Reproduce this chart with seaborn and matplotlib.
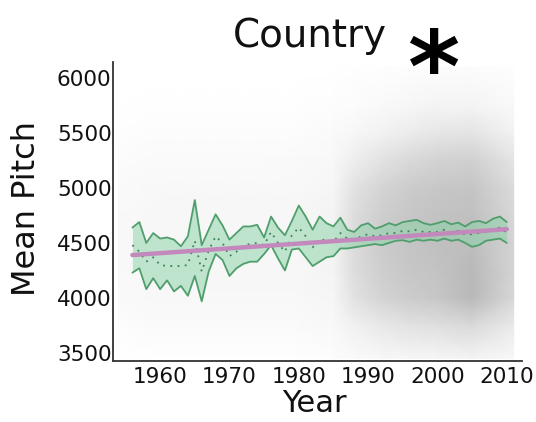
import numpy as np
import pandas as pd
import matplotlib
matplotlib.use("Agg")
import matplotlib.pyplot as plt
import seaborn as sns

# ---------------- data ----------------
years = list(range(1956, 2011))
ci_upper = [4640, 4690, 4500, 4590, 4540, 4550, 4530, 4470, 4560, 4890,
            4480, 4620, 4760, 4660, 4530, 4590, 4650, 4650, 4665, 4550,
            4740, 4640, 4570, 4700, 4840, 4740, 4620, 4740, 4680, 4650,
            4730, 4620, 4600, 4660, 4680, 4630, 4650, 4680, 4660, 4690,
            4700, 4710, 4680, 4665, 4680, 4700, 4670, 4685, 4650, 4690,
            4700, 4680, 4720, 4740, 4690]
ci_lower = [4230, 4270, 4080, 4180, 4080, 4160, 4060, 4110, 4020, 4200,
            3970, 4240, 4400, 4345, 4200, 4270, 4310, 4330, 4330, 4400,
            4480, 4360, 4250, 4440, 4450, 4370, 4290, 4330, 4370, 4380,
            4450, 4450, 4460, 4470, 4480, 4490, 4480, 4500, 4520, 4525,
            4510, 4530, 4520, 4530, 4520, 4540, 4520, 4530, 4500, 4465,
            4480, 4520, 4530, 4540, 4500]
mean_pitch = [4480, 4420, 4330, 4370, 4300, 4290, 4290, 4290, 4300, 4520,
              4240, 4430, 4560, 4500, 4380, 4420, 4480, 4490, 4500, 4480,
              4600, 4500, 4420, 4570, 4640, 4560, 4460, 4540, 4520, 4510,
              4590, 4540, 4530, 4560, 4580, 4560, 4570, 4590, 4590, 4610,
              4605, 4620, 4600, 4600, 4600, 4620, 4595, 4610, 4575, 4580,
              4590, 4600, 4625, 4640, 4595]
trend_years = [1956, 2010]
trend_pitch = [4390, 4625]

# density of the individual songs (grey cloud), read as darkness per grid node
cloud_years = [1954, 1960, 1965, 1970, 1975, 1980, 1985, 1988, 1992, 1996, 2000, 2005, 2011]
cloud_pitch = [3450, 3750, 4000, 4250, 4500, 4750, 5000, 5250, 5500, 5750, 6100]
cloud_density = [
    [0.00, 0.01, 0.01, 0.01, 0.01, 0.01, 0.02, 0.04, 0.06, 0.07, 0.08, 0.09, 0.05],
    [0.02, 0.04, 0.04, 0.04, 0.04, 0.04, 0.06, 0.12, 0.17, 0.20, 0.22, 0.25, 0.16],
    [0.04, 0.06, 0.06, 0.06, 0.06, 0.06, 0.08, 0.20, 0.27, 0.31, 0.33, 0.39, 0.26],
    [0.05, 0.07, 0.07, 0.07, 0.07, 0.07, 0.09, 0.23, 0.30, 0.33, 0.35, 0.39, 0.27],
    [0.05, 0.07, 0.07, 0.07, 0.07, 0.07, 0.09, 0.24, 0.31, 0.34, 0.36, 0.37, 0.27],
    [0.05, 0.07, 0.07, 0.07, 0.07, 0.07, 0.09, 0.23, 0.30, 0.33, 0.35, 0.36, 0.26],
    [0.04, 0.06, 0.06, 0.06, 0.06, 0.06, 0.08, 0.20, 0.27, 0.31, 0.33, 0.34, 0.24],
    [0.03, 0.04, 0.04, 0.04, 0.04, 0.05, 0.06, 0.14, 0.20, 0.25, 0.28, 0.29, 0.19],
    [0.01, 0.03, 0.03, 0.03, 0.03, 0.03, 0.04, 0.07, 0.11, 0.15, 0.18, 0.19, 0.11],
    [0.00, 0.01, 0.01, 0.01, 0.01, 0.01, 0.02, 0.03, 0.05, 0.07, 0.09, 0.09, 0.05],
    [0.00, 0.00, 0.00, 0.00, 0.00, 0.00, 0.00, 0.01, 0.01, 0.02, 0.03, 0.03, 0.01],
]

x_ticks = [1960, 1970, 1980, 1990, 2000, 2010]
y_ticks = [3500, 4000, 4500, 5000, 5500, 6000]
title_text = "Country"
sig_text = "*"
x_label = "Year"
y_label = "Mean Pitch"

# ---------------- drawing ----------------
sns.set_style("white")
plt.rcParams["font.family"] = ["DejaVu Sans"]

W, H = 536, 422
fig = plt.figure(figsize=(W / 100, H / 100), dpi=100)
ax = fig.add_axes([113 / W, 1 - 361 / H, (522 - 113) / W, (361 - 62) / H])

ax.pcolormesh(cloud_years, cloud_pitch, np.array(cloud_density),
              shading="gouraud", cmap="Greys", vmin=0, vmax=1, zorder=0)

df = pd.DataFrame({"year": years, "lower": ci_lower,
                   "upper": ci_upper, "mean": mean_pitch})
edge = "#4f9e6c"
ax.fill_between(df["year"], df["lower"], df["upper"], color="#86d2a4",
                alpha=0.5, lw=0, zorder=2)
sns.lineplot(data=df, x="year", y="upper", color=edge, lw=1.3, ax=ax, zorder=3)
sns.lineplot(data=df, x="year", y="lower", color=edge, lw=1.3, ax=ax, zorder=3)
sns.lineplot(data=df, x="year", y="mean", color="#3f8058", lw=1.3,
             linestyle=(0, (1, 3)), ax=ax, zorder=3)
sns.lineplot(x=trend_years, y=trend_pitch, color="#c389bd", lw=3.2,
             ax=ax, zorder=4)

ax.set_xlim(1953.2, 2012.2)
ax.set_ylim(3427, 6145)
ax.set_xticks(x_ticks)
ax.set_yticks(y_ticks)
ax.tick_params(axis="both", length=0, labelsize=15.5, colors="#111111")
ax.tick_params(axis="x", pad=4)
ax.tick_params(axis="y", pad=1)
ax.set_xlabel("")
ax.set_ylabel("")
for s in ["top", "right"]:
    ax.spines[s].set_visible(False)
for s in ["left", "bottom"]:
    ax.spines[s].set_color("#333333")
    ax.spines[s].set_linewidth(1.3)

fig.text(310 / W, 1 - 47 / H, title_text, ha="center", va="baseline",
         fontsize=28, color="#111111")
fig.text(433 / W, 1 - 74 / H, sig_text, ha="center", va="center",
         fontsize=72, fontweight="bold", color="#000000")
fig.text(314 / W, 1 - 412 / H, x_label, ha="center", va="baseline",
         fontsize=22, color="#111111")
fig.text(27 / W, 1 - 209 / H, y_label, ha="center", va="center",
         rotation=90, fontsize=23, color="#111111")

fig.savefig("out.png", dpi=100)
